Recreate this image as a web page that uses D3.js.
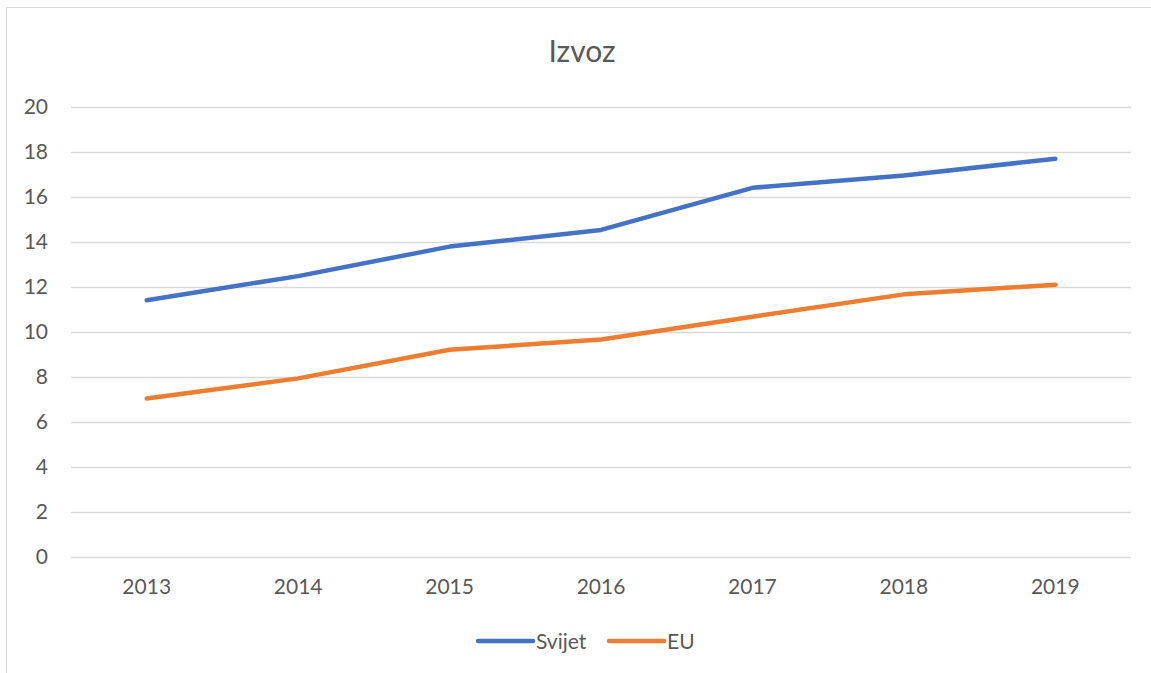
<!DOCTYPE html>
<meta charset="utf-8">
<style>
  body { margin: 0; background: #fff; }
  svg text { font-family: Lato, "Open Sans", sans-serif; fill: #595959; }
</style>
<body>
<div id="chart"></div>
<script src="https://d3js.org/d3.v7.min.js"></script>
<script>
// data
var years = ["2013", "2014", "2015", "2016", "2017", "2018", "2019"];
var svijet = [11.4, 12.47, 13.78, 14.52, 16.39, 16.94, 17.68];
var eu = [7.04, 7.93, 9.2, 9.66, 10.67, 11.66, 12.09];
var yTicks = [0, 2, 4, 6, 8, 10, 12, 14, 16, 18, 20];
var seriesNames = ["Svijet", "EU"];
var colors = ["#4472C4", "#ED7D31"];

var W = 1151, H = 673;
var margin = {top: 106.5, right: 20, bottom: 116, left: 71};

var svg = d3.select("#chart").append("svg")
  .attr("width", W)
  .attr("height", H);

// chart frame (only left and top edges are visible in the picture)
svg.append("rect")
  .attr("x", 6.5).attr("y", 7.5)
  .attr("width", W + 10).attr("height", H + 10)
  .attr("fill", "none")
  .attr("stroke", "#d9d9d9")
  .attr("stroke-width", 1);

svg.append("text")
  .attr("x", 582).attr("y", 62)
  .attr("text-anchor", "middle")
  .style("font-size", "30px")
  .text("Izvoz");

var x = d3.scaleBand()
  .domain(years)
  .range([margin.left, W - margin.right]);

var y = d3.scaleLinear()
  .domain([0, 20])
  .range([H - margin.bottom, margin.top]);

// gridlines
svg.append("g")
  .selectAll("line")
  .data(yTicks)
  .join("line")
    .attr("x1", x.range()[0])
    .attr("x2", x.range()[1])
    .attr("y1", function(d) { return Math.round(y(d)) + 0.5; })
    .attr("y2", function(d) { return Math.round(y(d)) + 0.5; })
    .attr("stroke", "#d9d9d9")
    .attr("stroke-width", 1.3);

// y axis labels
var yAxis = svg.append("g")
  .attr("transform", "translate(" + (margin.left - 13) + ",0)")
  .call(d3.axisLeft(y).tickValues(yTicks).tickSize(0).tickPadding(10));
yAxis.select(".domain").remove();
yAxis.selectAll("text")
  .style("font-size", "21px")
  .attr("fill", "#595959");

// x axis labels
var xAxis = svg.append("g")
  .attr("transform", "translate(0," + (H - margin.bottom) + ")")
  .call(d3.axisBottom(x).tickSize(0).tickPadding(22));
xAxis.select(".domain").remove();
xAxis.selectAll("text")
  .style("font-size", "21px")
  .attr("fill", "#595959");

var line = d3.line()
  .x(function(d, i) { return x(years[i]) + x.bandwidth() / 2; })
  .y(function(d) { return y(d); });

[svijet, eu].forEach(function(vals, k) {
  svg.append("path")
    .datum(vals)
    .attr("d", line)
    .attr("fill", "none")
    .attr("stroke", colors[k])
    .attr("stroke-width", 4.5)
    .attr("stroke-linecap", "round")
    .attr("stroke-linejoin", "round");
});

// legend
var legendX = [478, 609];
var legend = svg.append("g");
seriesNames.forEach(function(name, k) {
  legend.append("line")
    .attr("x1", legendX[k]).attr("x2", legendX[k] + 55)
    .attr("y1", 641).attr("y2", 641)
    .attr("stroke", colors[k])
    .attr("stroke-width", 4.5)
    .attr("stroke-linecap", "round");
  legend.append("text")
    .attr("x", legendX[k] + 58).attr("y", 649)
    .style("font-size", "21px")
    .text(name);
});
</script>
</body>
